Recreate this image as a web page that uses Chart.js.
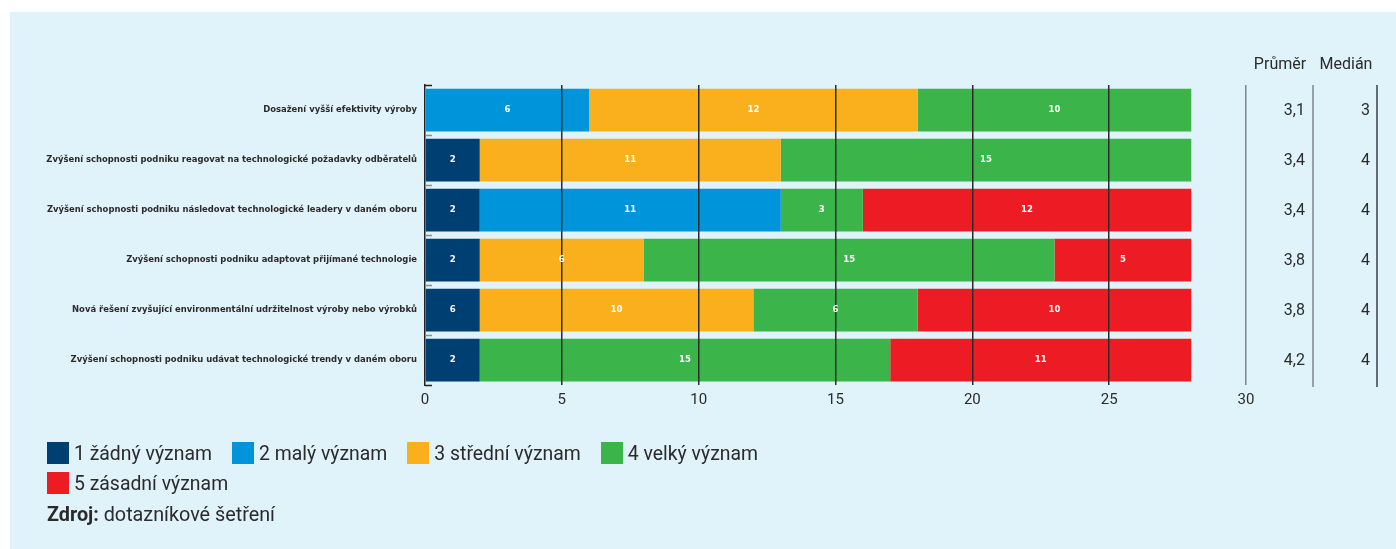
<!DOCTYPE html>
<html lang="cs">
<head>
<meta charset="utf-8">
<script src="https://cdn.jsdelivr.net/npm/chart.js@4.4.1/dist/chart.umd.min.js"></script>
<style>
  html, body { margin: 0; padding: 0; background: #fff; }
  body { width: 1396px; height: 549px; position: relative; overflow: hidden; font-family: Roboto, 'Noto Sans', sans-serif; color: #2b2b2b; }
  #panel { position: absolute; left: 10px; top: 12px; width: 1386px; height: 537px; background: #e0f2fa; }
  #wrap { position: absolute; left: 0; top: 0; width: 1396px; height: 549px; }
  #legend { position: absolute; left: 47px; top: 442px; width: 820px; display: flex; flex-wrap: wrap; row-gap: 8px; column-gap: 20px; font-size: 19.4px; }
  .item { display: flex; align-items: center; height: 22px; white-space: nowrap; }
  .item i { display: inline-block; width: 22px; height: 22px; margin-right: 5px; }
  #source { position: absolute; left: 47px; top: 503px; font-size: 19.8px; }
  #source b { font-weight: 700; }
</style>
</head>
<body>
<div id="panel"></div>
<div id="wrap"><canvas id="chart"></canvas></div>
<div id="legend"></div>
<div id="source"><b>Zdroj:</b> dotazníkové šetření</div>
<script>
const categories = [
  'Dosažení vyšší efektivity výroby',
  'Zvýšení schopnosti podniku reagovat na technologické požadavky odběratelů',
  'Zvýšení schopnosti podniku následovat technologické leadery v daném oboru',
  'Zvýšení schopnosti podniku adaptovat přijímané technologie',
  'Nová řešení zvyšující environmentální udržitelnost výroby nebo výrobků',
  'Zvýšení schopnosti podniku udávat technologické trendy v daném oboru'
];

const zadny   = [0, 2, 2, 2, 2, 2];
const maly    = [6, 0, 11, 0, 0, 0];
const stredni = [12, 11, 0, 6, 10, 0];
const velky   = [10, 15, 3, 15, 6, 15];
const zasadni = [0, 0, 12, 5, 10, 11];

// the source prints "6" on the 2-wide navy segment of row 5
const zadnyPrinted = [null, 2, 2, 2, 6, 2];

const prumer = [3.1, 3.4, 3.4, 3.8, 3.8, 4.2];
const median = [3, 4, 4, 4, 4, 4];

const xTicks = [0, 5, 10, 15, 20, 25, 30];

const SERIES = [
  { label: '1 žádný význam',   data: zadny,   color: '#003f72', printed: zadnyPrinted },
  { label: '2 malý význam',    data: maly,    color: '#0095da' },
  { label: '3 střední význam', data: stredni, color: '#f9b01c' },
  { label: '4 velký význam',   data: velky,   color: '#3bb54a' },
  { label: '5 zásadní význam', data: zasadni, color: '#ed1c24' }
];

const NARROW = "'Liberation Sans Narrow', 'DejaVu Sans Condensed', sans-serif";
const LIGHT = "Roboto, 'Noto Sans', sans-serif";
const INK = '#2b2b2b';

// white numbers inside the segments
const segLabels = {
  id: 'segLabels',
  afterDraw(chart) {
    const ctx = chart.ctx;
    ctx.save();
    ctx.font = 'bold 9.5px ' + NARROW;
    ctx.fillStyle = '#fff';
    ctx.textAlign = 'center';
    ctx.textBaseline = 'middle';
    chart.data.datasets.forEach((ds, di) => {
      const meta = chart.getDatasetMeta(di);
      meta.data.forEach((bar, i) => {
        const v = ds.data[i];
        if (!v) return;
        const txt = ds.printed ? ds.printed[i] : v;
        const x = (bar.base + bar.x) / 2;
        ctx.fillText(String(txt), x, bar.y);
      });
    });
    ctx.restore();
  }
};

// inward ticks on the category axis + Průměr / Medián columns
const sideBits = {
  id: 'sideBits',
  afterDraw(chart) {
    const ctx = chart.ctx;
    const y = chart.scales.y;
    const area = chart.chartArea;
    ctx.save();

    const n = categories.length;
    const step = (y.getPixelForValue(n - 1) - y.getPixelForValue(0)) / (n - 1);
    for (let i = 0; i <= n; i++) {
      const py = Math.round(y.getPixelForValue(0) - step / 2 + i * step) + 0.5;
      ctx.strokeStyle = (i === 0 || i === n) ? '#222' : '#8a8f94';
      ctx.lineWidth = 1.5;
      ctx.beginPath();
      ctx.moveTo(area.left, py);
      ctx.lineTo(area.left + 7, py);
      ctx.stroke();
    }

    const line2 = 1313, line3 = 1377;
    ctx.lineWidth = 1.5;
    ctx.strokeStyle = '#80868b';
    ctx.beginPath(); ctx.moveTo(line2, area.top); ctx.lineTo(line2, area.bottom + 2); ctx.stroke();
    ctx.strokeStyle = '#3a3f44';
    ctx.beginPath(); ctx.moveTo(line3, area.top); ctx.lineTo(line3, area.bottom + 2); ctx.stroke();

    ctx.fillStyle = INK;
    ctx.font = '16px ' + LIGHT;
    ctx.textBaseline = 'middle';
    ctx.textAlign = 'center';
    ctx.fillText('Průměr', 1280, 65);
    ctx.fillText('Medián', 1346, 65);
    ctx.textAlign = 'right';
    categories.forEach((c, i) => {
      const py = y.getPixelForValue(i) + 1;
      ctx.fillText(prumer[i].toFixed(1).replace('.', ','), line2 - 8, py);
      ctx.fillText(String(median[i]), line3 - 7, py);
    });
    ctx.restore();
  }
};

new Chart(document.getElementById('chart'), {
  type: 'bar',
  data: {
    labels: categories,
    datasets: SERIES.map(s => ({
      label: s.label,
      data: s.data,
      printed: s.printed,
      backgroundColor: s.color,
      borderWidth: 0,
      barPercentage: 0.855,
      categoryPercentage: 1
    }))
  },
  options: {
    indexAxis: 'y',
    responsive: true,
    maintainAspectRatio: false,
    animation: false,
    layout: { padding: { left: 10, right: 150, top: 85, bottom: 134 } },
    plugins: { legend: { display: false }, tooltip: { enabled: false } },
    scales: {
      x: {
        stacked: true,
        min: 0, max: 30,
        afterBuildTicks: s => { s.ticks = xTicks.map(v => ({ value: v })); },
        afterFit: s => { s.height = 30; },
        grid: {
          z: 1,
          drawTicks: false,
          lineWidth: 1.5,
          color: c => c.tick && c.tick.value === 0 ? 'rgba(0,0,0,0)' : (c.tick && c.tick.value === 30 ? '#80868b' : '#2b2b2b')
        },
        border: { display: false },
        ticks: { color: INK, padding: 6, font: { family: LIGHT, size: 15 } }
      },
      y: {
        stacked: true,
        afterFit: s => { s.width = 415; },
        grid: { display: false, drawTicks: false },
        border: { display: true, color: '#222', width: 1.5 },
        ticks: { color: INK, padding: 8, font: { family: NARROW, size: 9.4, weight: 'bold' } }
      }
    }
  },
  plugins: [segLabels, sideBits]
});

const legendEl = document.getElementById('legend');
SERIES.forEach(s => {
  const it = document.createElement('span');
  it.className = 'item';
  it.innerHTML = `<i style="background:${s.color}"></i>${s.label}`;
  legendEl.appendChild(it);
});
</script>
</body>
</html>
